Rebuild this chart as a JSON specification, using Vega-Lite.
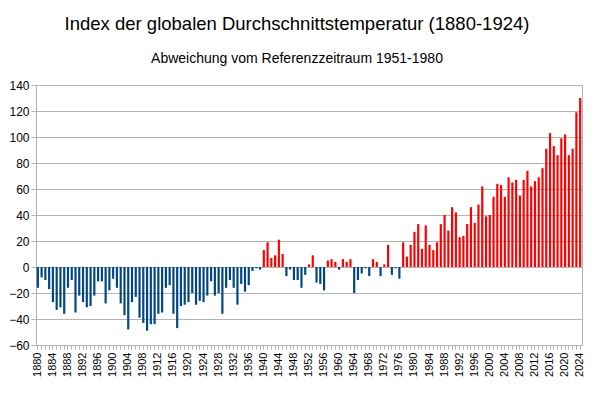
{
  "$schema": "https://vega.github.io/schema/vega-lite/v6.json",
  "width": 546,
  "height": 260,
  "autosize": {"type": "none"},
  "padding": {"left": 36, "top": 85, "right": 18, "bottom": 51},
  "background": "white",
  "title": {
    "text": "Index der globalen Durchschnittstemperatur (1880-1924)",
    "subtitle": "Abweichung vom Referenzzeitraum 1951-1980",
    "anchor": "middle",
    "dx": -12,
    "font": "Liberation Sans",
    "fontSize": 18.5,
    "fontWeight": "normal",
    "color": "#000000",
    "subtitleFont": "Liberation Sans",
    "subtitleFontSize": 14,
    "subtitleColor": "#000000",
    "subtitlePadding": 19,
    "offset": 13
  },
  "config": {
    "view": {"stroke": "#b3b3b3", "strokeWidth": 1}
  },
  "data": {
    "values": [
      {"year": 1880, "v": -16}, {"year": 1881, "v": -8}, {"year": 1882, "v": -10}, {"year": 1883, "v": -17},
      {"year": 1884, "v": -27}, {"year": 1885, "v": -33}, {"year": 1886, "v": -31}, {"year": 1887, "v": -36},
      {"year": 1888, "v": -16}, {"year": 1889, "v": -10}, {"year": 1890, "v": -35}, {"year": 1891, "v": -22},
      {"year": 1892, "v": -27}, {"year": 1893, "v": -31}, {"year": 1894, "v": -30}, {"year": 1895, "v": -22},
      {"year": 1896, "v": -11}, {"year": 1897, "v": -11}, {"year": 1898, "v": -28}, {"year": 1899, "v": -18},
      {"year": 1900, "v": -9}, {"year": 1901, "v": -16}, {"year": 1902, "v": -28}, {"year": 1903, "v": -37},
      {"year": 1904, "v": -48}, {"year": 1905, "v": -27}, {"year": 1906, "v": -23}, {"year": 1907, "v": -39},
      {"year": 1908, "v": -43}, {"year": 1909, "v": -49}, {"year": 1910, "v": -44}, {"year": 1911, "v": -44},
      {"year": 1912, "v": -36}, {"year": 1913, "v": -35}, {"year": 1914, "v": -16}, {"year": 1915, "v": -14},
      {"year": 1916, "v": -36}, {"year": 1917, "v": -47}, {"year": 1918, "v": -30}, {"year": 1919, "v": -29},
      {"year": 1920, "v": -27}, {"year": 1921, "v": -20}, {"year": 1922, "v": -29}, {"year": 1923, "v": -26},
      {"year": 1924, "v": -27}, {"year": 1925, "v": -22}, {"year": 1926, "v": -11}, {"year": 1927, "v": -22},
      {"year": 1928, "v": -20}, {"year": 1929, "v": -36}, {"year": 1930, "v": -16}, {"year": 1931, "v": -10},
      {"year": 1932, "v": -16}, {"year": 1933, "v": -29}, {"year": 1934, "v": -13}, {"year": 1935, "v": -19},
      {"year": 1936, "v": -14}, {"year": 1937, "v": -3}, {"year": 1938, "v": -1}, {"year": 1939, "v": -2},
      {"year": 1940, "v": 13}, {"year": 1941, "v": 19}, {"year": 1942, "v": 7}, {"year": 1943, "v": 9},
      {"year": 1944, "v": 21}, {"year": 1945, "v": 10}, {"year": 1946, "v": -7}, {"year": 1947, "v": -2},
      {"year": 1948, "v": -10}, {"year": 1949, "v": -10}, {"year": 1950, "v": -16}, {"year": 1951, "v": -6},
      {"year": 1952, "v": 2}, {"year": 1953, "v": 9}, {"year": 1954, "v": -12}, {"year": 1955, "v": -13},
      {"year": 1956, "v": -18}, {"year": 1957, "v": 5}, {"year": 1958, "v": 6}, {"year": 1959, "v": 4},
      {"year": 1960, "v": -2}, {"year": 1961, "v": 6}, {"year": 1962, "v": 4}, {"year": 1963, "v": 6},
      {"year": 1964, "v": -20}, {"year": 1965, "v": -10}, {"year": 1966, "v": -5}, {"year": 1967, "v": -1},
      {"year": 1968, "v": -7}, {"year": 1969, "v": 6}, {"year": 1970, "v": 4}, {"year": 1971, "v": -7},
      {"year": 1972, "v": 2}, {"year": 1973, "v": 17}, {"year": 1974, "v": -6}, {"year": 1975, "v": -1},
      {"year": 1976, "v": -9}, {"year": 1977, "v": 19}, {"year": 1978, "v": 8}, {"year": 1979, "v": 17},
      {"year": 1980, "v": 27}, {"year": 1981, "v": 33}, {"year": 1982, "v": 14}, {"year": 1983, "v": 32},
      {"year": 1984, "v": 17}, {"year": 1985, "v": 13}, {"year": 1986, "v": 19}, {"year": 1987, "v": 33},
      {"year": 1988, "v": 40}, {"year": 1989, "v": 28}, {"year": 1990, "v": 46}, {"year": 1991, "v": 42},
      {"year": 1992, "v": 23}, {"year": 1993, "v": 24}, {"year": 1994, "v": 33}, {"year": 1995, "v": 46},
      {"year": 1996, "v": 34}, {"year": 1997, "v": 48}, {"year": 1998, "v": 62}, {"year": 1999, "v": 39},
      {"year": 2000, "v": 40}, {"year": 2001, "v": 54}, {"year": 2002, "v": 64}, {"year": 2003, "v": 63},
      {"year": 2004, "v": 54}, {"year": 2005, "v": 69}, {"year": 2006, "v": 65}, {"year": 2007, "v": 67},
      {"year": 2008, "v": 55}, {"year": 2009, "v": 67}, {"year": 2010, "v": 74}, {"year": 2011, "v": 62},
      {"year": 2012, "v": 66}, {"year": 2013, "v": 69}, {"year": 2014, "v": 76}, {"year": 2015, "v": 91},
      {"year": 2016, "v": 103}, {"year": 2017, "v": 93}, {"year": 2018, "v": 86}, {"year": 2019, "v": 99},
      {"year": 2020, "v": 102}, {"year": 2021, "v": 86}, {"year": 2022, "v": 91}, {"year": 2023, "v": 119},
      {"year": 2024, "v": 130}
    ]
  },
  "mark": {"type": "bar"},
  "encoding": {
    "x": {
      "field": "year",
      "type": "ordinal",
      "title": null,
      "scale": {"paddingInner": 0.42, "paddingOuter": 0.2},
      "axis": {
        "labelAngle": -90,
        "labelFont": "Liberation Sans",
        "labelFontSize": 11,
        "labelColor": "#000000",
        "labelExpr": "datum.value % 4 == 0 ? datum.label : ''",
        "labelPadding": 3,
        "tickSize": 4,
        "tickColor": "#b3b3b3",
        "domainColor": "#b3b3b3",
        "labelOverlap": false,
        "grid": false
      }
    },
    "y": {
      "field": "v",
      "type": "quantitative",
      "title": null,
      "scale": {"domain": [-60, 140], "nice": false},
      "axis": {
        "values": [-60, -40, -20, 0, 20, 40, 60, 80, 100, 120, 140],
        "labelFont": "Liberation Sans",
        "labelFontSize": 12,
        "labelColor": "#000000",
        "tickSize": 5,
        "tickColor": "#b3b3b3",
        "domainColor": "#b3b3b3",
        "gridColor": "#b3b3b3",
        "labelPadding": 2
      }
    },
    "color": {
      "condition": {"test": "datum.v > 0", "value": "#ff0000"},
      "value": "#004586"
    }
  }
}
